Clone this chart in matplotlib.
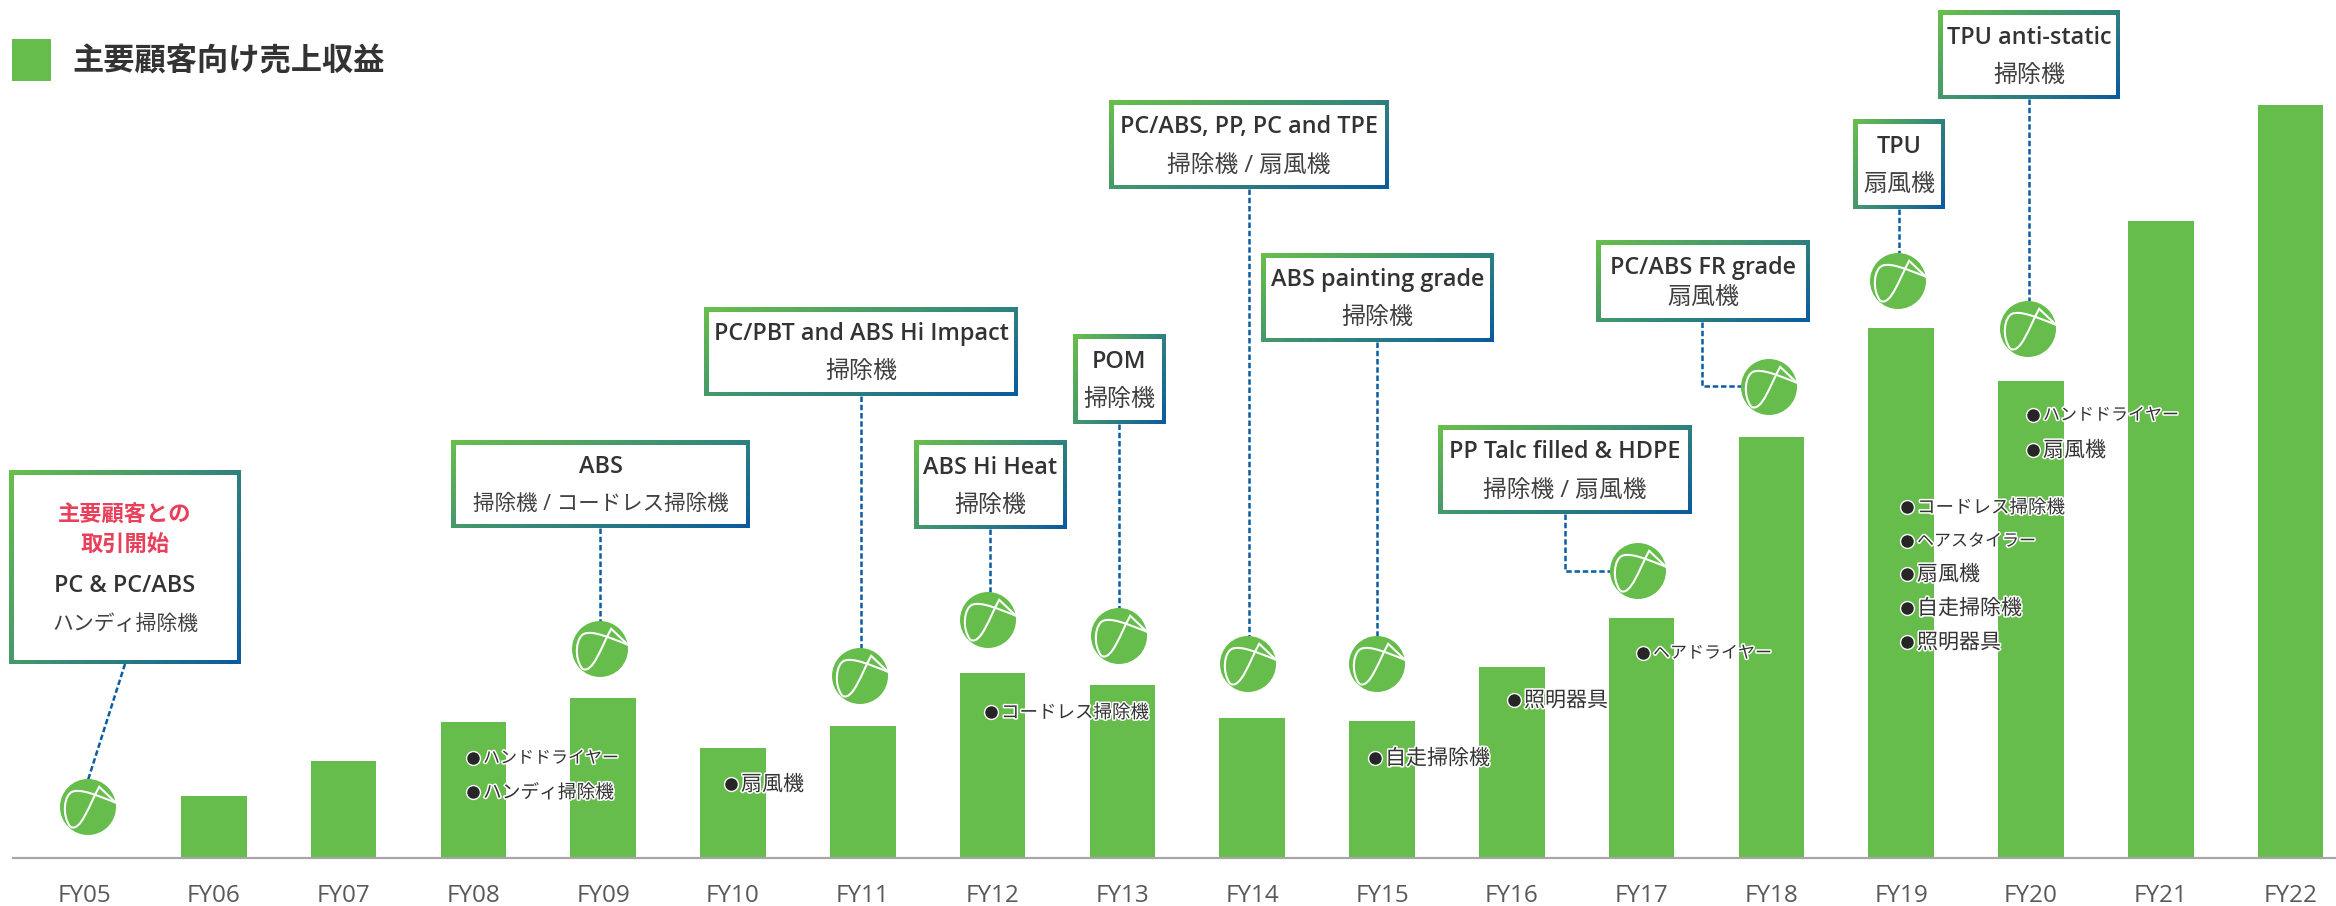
"""主要顧客向け売上収益 - bars by fiscal year with product callouts."""

import numpy as np
import matplotlib
matplotlib.use("Agg")
import matplotlib.pyplot as plt
import matplotlib.patheffects as pe
from matplotlib.colors import LinearSegmentedColormap
from matplotlib.patches import Circle, PathPatch, Rectangle
from matplotlib.path import Path

plt.rcParams["font.family"] = ["Open Sans", "Noto Sans CJK JP", "DejaVu Sans"]

W, H = 2336, 906
GREEN = "#66BD4C"
BLUE = "#0B5CA0"
DARK = "#333333"

# --- data (no scale on the chart, values are bar heights as read) ---
YEARS = ["FY05", "FY06", "FY07", "FY08", "FY09", "FY10", "FY11", "FY12", "FY13",
         "FY14", "FY15", "FY16", "FY17", "FY18", "FY19", "FY20", "FY21", "FY22"]
SALES = [0, 62, 97, 136, 160, 110, 132, 185, 173, 140, 137, 191, 240, 421, 530, 477, 637, 753]

BOX_TITLES = ["PC & PC/ABS", "ABS", "PC/PBT and ABS Hi Impact", "ABS Hi Heat", "POM",
              "PC/ABS, PP, PC and TPE", "ABS painting grade", "PP Talc filled & HDPE",
              "PC/ABS FR grade", "TPU", "TPU anti-static"]
BOX_SUBS = ["ハンディ掃除機", "掃除機 / コードレス掃除機", "掃除機", "掃除機", "掃除機",
            "掃除機 / 扇風機", "掃除機", "掃除機 / 扇風機", "扇風機", "扇風機", "掃除機"]
BULLETS = ["ハンドドライヤー", "ハンディ掃除機", "扇風機", "コードレス掃除機", "自走掃除機", "照明器具",
           "ヘアドライヤー", "ハンドドライヤー", "扇風機", "コードレス掃除機", "ヘアスタイラー",
           "扇風機", "自走掃除機", "照明器具"]

fig = plt.figure(figsize=(W / 100, H / 100), dpi=100)

# ---------- bars ----------
BASE = 858
STEP = 129.8
X0 = 84
ax = fig.add_axes([13 / W, 1 - BASE / H, (W - 13) / W, BASE / H])
ax.bar(range(len(YEARS)), SALES, width=0.505, color=GREEN)
ax.set_xlim((13 - X0) / STEP, (W - X0) / STEP)
ax.set_ylim(0, BASE)
for s in ("top", "left", "right"):
    ax.spines[s].set_visible(False)
ax.spines["bottom"].set_color("#A6A6A6")
ax.spines["bottom"].set_linewidth(1.6)
ax.set_yticks([])
ax.set_xticks(range(len(YEARS)), YEARS)
ax.tick_params(axis="x", length=0, pad=19, labelsize=17.5, labelcolor="#595959")

# ---------- overlay in pixel coordinates ----------
ov = fig.add_axes([0, 0, 1, 1])
ov.patch.set_alpha(0)
ov.axis("off")

grad = LinearSegmentedColormap.from_list("g", ["#69BF4B", "#0B5B9E"])
xx, yy = np.meshgrid(np.linspace(0, 1, 64), np.linspace(0, 1, 64))


def box(x0, y0, x1, y1):
    ov.imshow(0.62 * xx + 0.38 * yy, cmap=grad, extent=(x0, x1, y1, y0), aspect="auto", zorder=5)
    ov.add_patch(Rectangle((x0 + 4.5, y0 + 4.5), x1 - x0 - 9, y1 - y0 - 9,
                           facecolor="white", edgecolor="none", zorder=6))


def logo(cx, cy, r=28):
    ov.add_patch(Circle((cx, cy), r, facecolor=GREEN, edgecolor="none", zorder=4))
    # white swoosh, y runs downward here
    outer = [(-0.63, 0.71), (-0.95, 0.30), (-0.85, -0.45), (-0.55, -0.55),
             (-0.25, -0.65), (0.25, -0.45), (1.0, -0.15)]
    codes = [Path.MOVETO] + [Path.CURVE4] * 6
    arc = Path([(cx + a * r, cy + b * r) for a, b in outer], codes)
    ov.add_patch(PathPatch(arc, facecolor="none", edgecolor="white", lw=1.5, zorder=4.5))
    inner = [(-0.63, 0.71), (-0.25, 0.90), (0.05, -0.10), (0.40, -0.72), (1.0, -0.15)]
    codes = [Path.MOVETO] + [Path.CURVE4] * 3 + [Path.LINETO]
    arc = Path([(cx + a * r, cy + b * r) for a, b in inner], codes)
    ov.add_patch(PathPatch(arc, facecolor="none", edgecolor="white", lw=1.5, zorder=4.5))


def dash(xs, ys):
    ov.plot(xs, ys, color=BLUE, lw=1.8, ls=(0, (2.2, 1.1)), zorder=3)


def jp_size(label, kanji_px, kana_px):
    # reference font has narrow kana, so pick a size that gives about the same text width
    kana = sum(0x30A0 <= ord(c) <= 0x30FF for c in label)
    sep = 1 if "/" in label else 0
    kanji = len(label) - kana - 3 * sep
    width = kanji * kanji_px + kana * kana_px + sep * kanji_px * 0.85
    return width / (kanji + kana + sep * 0.93) * 0.72


# x0, y0, x1, y1 of each callout box
BOXES = [(9, 470, 241, 664), (451, 440, 750, 528), (704, 307, 1018, 396), (914, 440, 1067, 529),
         (1073, 334, 1166, 424), (1109, 100, 1389, 189), (1261, 253, 1494, 342),
         (1438, 425, 1692, 514), (1596, 240, 1810, 322), (1853, 119, 1945, 209), (1938, 10, 2120, 99)]
for (x0, y0, x1, y1), title, sub in zip(BOXES, BOX_TITLES, BOX_SUBS):
    box(x0, y0, x1, y1)
    cx = (x0 + x1) / 2
    mid = (y0 + y1) / 2
    if title == "PC & PC/ABS":
        ov.text(cx, 531, "主要顧客との\n取引開始", ha="center", va="center", fontsize=16,
                fontweight="bold", color="#E8405A", linespacing=1.5, zorder=7)
        ty, sy = 592, 625
    elif title == "PC/ABS FR grade":
        ty, sy = mid - 7, mid + 17
    else:
        ty, sy = mid - 11, mid + 21
    ov.text(cx, ty, title, ha="center", va="baseline", fontsize=16.8, fontweight="semibold",
            color=DARK, zorder=7)
    ov.text(cx, sy, sub, ha="center", va="center", fontsize=jp_size(sub, 24, 18.5),
            color="#404040", zorder=7)

LOGOS = [(88, 807), (600, 649), (860, 676), (988, 620), (1119, 636), (1248, 664), (1377, 664),
         (1638, 571), (1769, 387), (1898, 281), (2028, 329)]
for cx, cy in LOGOS:
    logo(cx, cy)

dash([125, 88], [664, 780])
dash([600, 600], [528, 621])
dash([861, 861], [396, 648])
dash([990, 990], [529, 592])
dash([1119, 1119], [424, 608])
dash([1249, 1249], [189, 636])
dash([1377, 1377], [342, 636])
dash([1565, 1565, 1610], [514, 571, 571])
dash([1702, 1702, 1742], [322, 386, 386])
dash([1899, 1899], [209, 253])
dash([2029, 2029], [99, 301])

BULLET_POS = [(473, 758), (473, 792), (731, 784), (991, 712), (1375, 758), (1514, 700), (1643, 653),
              (2033, 415), (2033, 450), (1907, 507), (1907, 541), (1907, 574), (1907, 608), (1907, 642)]
halo = [pe.withStroke(linewidth=2.2, foreground="white")]
for (bx, by), label in zip(BULLET_POS, BULLETS):
    ov.plot([bx], [by], "o", ms=10, mfc="#262626", mec="white", mew=1.0, zorder=8)
    ov.text(bx + 10, by + 1, label, ha="left", va="center", fontsize=jp_size(label, 21, 17),
            color=DARK, path_effects=halo, zorder=8)

# title
ov.add_patch(Rectangle((12, 39), 39, 42, facecolor=GREEN, edgecolor="none"))
ov.text(72, 62, "主要顧客向け売上収益", ha="left", va="center", fontsize=22.5,
        fontweight="bold", color=DARK)

ov.set_xlim(0, W)
ov.set_ylim(H, 0)

fig.savefig("out.png", dpi=100)
plt.close(fig)
